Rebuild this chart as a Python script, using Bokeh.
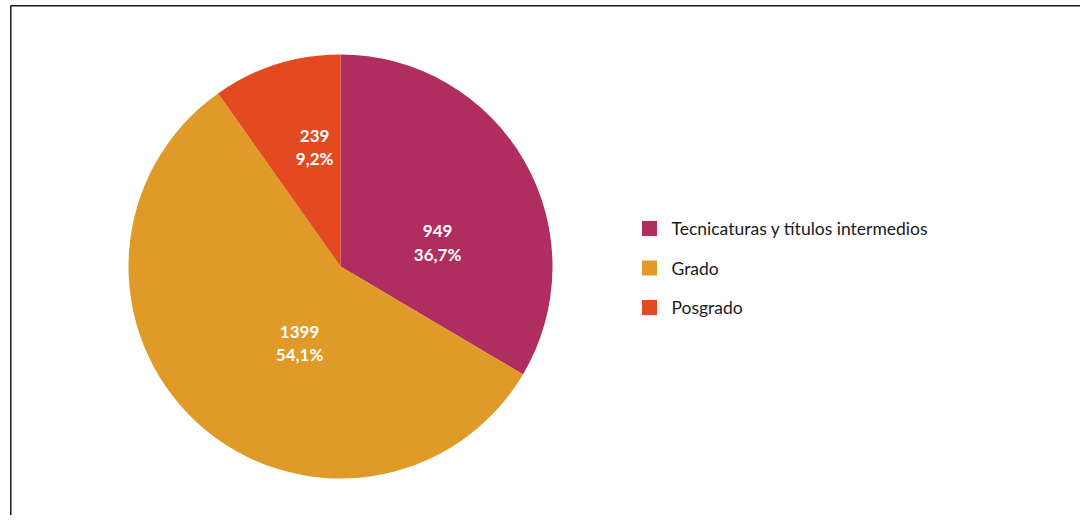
import math
from bokeh.plotting import figure
from bokeh.models import Range1d, ColumnDataSource
from bokeh.core.properties import value
from bokeh.embed import file_html
from bokeh.resources import INLINE

# ---- data ----
categories = ["Tecnicaturas y títulos intermedios", "Grado", "Posgrado"]
counts = [949, 1399, 239]
percent_labels = ["36,7%", "54,1%", "9,2%"]
# slice sizes as drawn in the picture (share of the full circle, %)
slice_shares = [33.5, 56.7, 9.8]
colors = ["#B02D5F", "#E09A27", "#E34A22"]

# ---- layout ----
W, H = 1080, 515


def sx(x):
    return x


def sy(y):
    return H - y


cx, cy, R = sx(340), sy(266), 212
label_angle_nudge_deg = [-15.8, 14.6, -5.4]
label_radius = [100, 87, 122]
legend_sq_x = sx(649)
legend_text_x = sx(671)
legend_y0 = 228
legend_dy = 39.5
legend_sq = 15

p = figure(width=W, height=H, x_range=Range1d(0, W), y_range=Range1d(0, H),
           output_backend="svg", toolbar_location=None, min_border=0)
p.axis.visible = False
p.grid.visible = False
p.outline_line_color = None
p.background_fill_color = "white"
p.border_fill_color = "white"

# border (top and left edges only visible)
p.segment(x0=[sx(10), sx(10.3)], y0=[sy(5.3), sy(5.3)], x1=[sx(1080), sx(10.3)], y1=[sy(5.3), 0],
          line_color="#1a1a1a", line_width=1.5)

total = sum(slice_shares)
starts, ends, lx, ly, ltext = [], [], [], [], []
cum = 0
for i, s in enumerate(slice_shares):
    a0 = math.pi / 2 - 2 * math.pi * cum / total
    cum += s
    a1 = math.pi / 2 - 2 * math.pi * cum / total
    starts.append(a0)
    ends.append(a1)
    mid = (a0 + a1) / 2 + math.radians(label_angle_nudge_deg[i])
    lx.append(cx + label_radius[i] * math.cos(mid))
    ly.append(cy + label_radius[i] * math.sin(mid))
    ltext.append(f"{counts[i]}\n{percent_labels[i]}")

src = ColumnDataSource(dict(start=starts, end=ends, color=colors, lx=lx, ly=ly, text=ltext))
p.wedge(x=cx, y=cy, radius=R, start_angle="start", end_angle="end", direction="clock",
        fill_color="color", line_color=None, source=src)
p.text(x="lx", y="ly", text="text", source=src, text_color="white",
       text_font=value("Lato"), text_font_style="bold", text_font_size="17px",
       text_align="center", text_baseline="middle", text_line_height=1.1)

# legend
leg = ColumnDataSource(dict(
    y=[sy(legend_y0 + i * legend_dy) for i in range(len(categories))],
    color=colors, name=categories))
p.rect(x=legend_sq_x, y="y", width=legend_sq, height=legend_sq, fill_color="color",
       line_color=None, source=leg)
p.text(x=legend_text_x, y="y", text="name", source=leg, text_color="#1a1a1a",
       text_font=value("Lato"), text_font_size="17.5px", text_baseline="middle",
       text_align="left")

open("out.html", "w").write(file_html(p, INLINE))
